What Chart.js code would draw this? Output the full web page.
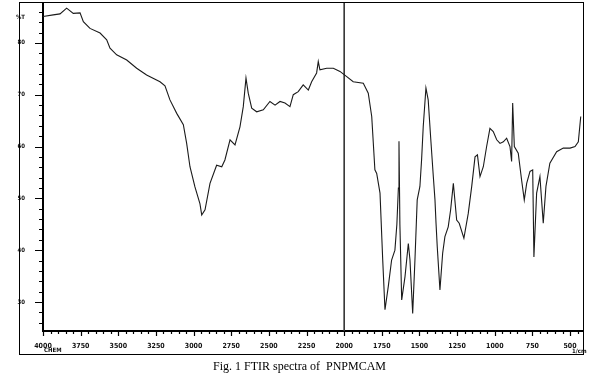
<!DOCTYPE html>
<html>
<head>
<meta charset="utf-8">
<script src="https://cdn.jsdelivr.net/npm/chart.js@4.4.1/dist/chart.umd.min.js"></script>
<style>
  body { margin: 0; background: #fff; }
  #wrap { position: relative; width: 595px; height: 381px; }
  #frame {
    position: absolute; left: 19px; top: 2px; width: 565px; height: 353px;
    box-sizing: border-box; border: 1.5px solid #000; pointer-events: none;
  }
  .note { position: absolute; font-family: 'DejaVu Sans Condensed', 'DejaVu Sans', sans-serif; font-weight: bold; font-size: 6px; color: #111; }
  #caption {
    position: absolute; left: 0; width: 599px; top: 359px; text-align: center;
    font-family: 'Liberation Serif', 'DejaVu Serif', serif; font-size: 12px; white-space: pre; color: #000;
  }
</style>
</head>
<body>
<div id="wrap">
  <canvas id="c" width="595" height="381"></canvas>
  <div id="frame"></div>
  <div class="note" style="left:44px; top:346px;">CHEM</div>
  <div class="note" style="left:572px; top:347px;">1/cm</div>
  <div id="caption">Fig. 1 FTIR spectra of  PNPMCAM</div>
</div>
<script>
// spectrum (wavenumber cm-1, %T)
const wavenumbers = [4000, 3932, 3887, 3843, 3799, 3754, 3732, 3688, 3621, 3577, 3555, 3511, 3444, 3378, 3312, 3256, 3223, 3190, 3157, 3112, 3068, 3046, 3024, 2991, 2958,
  2946, 2924, 2891, 2847, 2813, 2792, 2758, 2725, 2692, 2670, 2652, 2637, 2614, 2581, 2537, 2493, 2459, 2426, 2393, 2360, 2338, 2305, 2272, 2238, 2216, 2183, 2172, 2161, 2116, 2072, 2028,
  1983, 1940, 1873, 1840, 1817, 1796, 1784, 1762, 1744, 1729, 1707, 1685, 1663, 1650, 1640, 1636, 1630, 1618, 1596, 1574, 1563, 1545, 1530, 1515, 1497, 1486, 1475, 1457, 1442, 1426,
  1408, 1397, 1390, 1382, 1364, 1346, 1331, 1309, 1293, 1275, 1253, 1236, 1205, 1176, 1153, 1131, 1115, 1098, 1076, 1054, 1032, 1010, 987, 965, 943, 921, 899, 888, 881, 870,
  844, 822, 804, 788, 766, 748, 740, 722, 700, 678, 660, 634, 589, 545, 500, 467, 445, 429];
const transmittance = [85.1, 85.4, 85.6, 86.7, 85.7, 85.8, 84.1, 82.8, 81.9, 80.6, 79.0, 77.7, 76.7, 75.1, 73.8, 73.0, 72.5, 71.7, 69.0, 66.4, 64.2, 60.6, 56.1, 52.2, 49.0,
  46.8, 47.8, 52.9, 56.4, 56.1, 57.4, 61.3, 60.3, 63.8, 67.7, 73.2, 70.3, 67.4, 66.7, 67.1, 68.7, 68.0, 68.7, 68.4, 67.7, 70.0, 70.6, 71.9, 70.9, 72.5, 74.2, 76.4, 74.8, 75.1, 75.1, 74.5,
  73.5, 72.5, 72.2, 70.3, 65.8, 55.5, 54.8, 51.0, 38.1, 28.5, 33.0, 38.1, 40.0, 45.0, 52.0, 61.0, 45.0, 30.4, 34.9, 41.3, 38.1, 27.8, 38.1, 49.7, 52.3, 57.4, 63.8, 71.3, 69.0, 61.9,
  54.2, 49.7, 45.2, 40.7, 32.3, 39.4, 42.6, 44.5, 47.8, 52.9, 45.8, 45.2, 42.3, 47.1, 52.3, 58.0, 58.4, 54.2, 56.1, 60.0, 63.5, 62.9, 61.3, 60.6, 60.9, 61.6, 60.0, 57.1, 68.4, 60.0,
  58.7, 53.6, 49.7, 52.9, 55.2, 55.5, 38.7, 51.0, 54.2, 45.2, 52.3, 56.8, 59.0, 59.7, 59.7, 60.0, 60.9, 65.8];

const xLabels = [4000, 3750, 3500, 3250, 3000, 2750, 2500, 2250, 2000, 1750, 1500, 1250, 1000, 750, 500];
const yLabels = [30, 40, 50, 60, 70, 80, 85];
const xRange = [414, 4000];
const yRange = [24.4, 87.7];
const splitAt = 2000;

const points = wavenumbers.map((w, i) => ({ x: w, y: transmittance[i] }));

// small tick marks along both axes
const tickMarks = {
  id: 'tickMarks',
  afterDraw(chart) {
    const { ctx, scales: { x, y } } = chart;
    ctx.save();
    ctx.strokeStyle = '#000';
    ctx.lineWidth = 1.2;
    ctx.beginPath();
    for (let v = 450; v <= 4000; v += 50) {
      const px = Math.round(x.getPixelForValue(v)) + 0.5;
      const len = v % 250 === 0 ? 5 : 3;
      ctx.moveTo(px, y.bottom);
      ctx.lineTo(px, y.bottom + len);
    }
    for (let v = 26; v <= 86; v += 2) {
      const py = Math.round(y.getPixelForValue(v)) + 0.5;
      const len = v % 10 === 0 ? 8 : 4;
      ctx.moveTo(x.left - len, py);
      ctx.lineTo(x.left, py);
    }
    ctx.stroke();
    ctx.restore();
  }
};

function noPad(s) {
  s.paddingTop = 0; s.paddingBottom = 0; s.paddingLeft = 0; s.paddingRight = 0;
}

new Chart(document.getElementById('c'), {
  type: 'line',
  data: {
    datasets: [
      {
        data: points,
        borderColor: '#1a1a1a',
        borderWidth: 1.1,
        pointRadius: 0,
        tension: 0
      },
      {
        data: [{ x: splitAt, y: yRange[0] }, { x: splitAt, y: yRange[1] }],
        borderColor: '#333',
        borderWidth: 1.6,
        pointRadius: 0
      }
    ]
  },
  options: {
    responsive: false,
    animation: false,
    events: [],
    layout: { padding: { left: 0, top: 3, right: 12, bottom: 26 } },
    plugins: { legend: { display: false }, tooltip: { enabled: false } },
    scales: {
      x: {
        type: 'linear',
        reverse: true,
        min: xRange[0],
        max: xRange[1],
        grid: { display: false },
        border: { display: true, color: '#000', width: 2 },
        afterBuildTicks: s => { s.ticks = xLabels.map(v => ({ value: v })); },
        afterFit: s => { s.height = 24; noPad(s); },
        ticks: {
          autoSkip: false,
          maxRotation: 0,
          padding: 3,
          color: '#111',
          font: { family: "'DejaVu Sans Condensed', 'DejaVu Sans', sans-serif", size: 7, weight: 'bold' },
          callback: v => v
        }
      },
      y: {
        min: yRange[0],
        max: yRange[1],
        grid: { display: false },
        border: { display: true, color: '#000', width: 2 },
        afterBuildTicks: s => { s.ticks = yLabels.map(v => ({ value: v })); },
        afterFit: s => { s.width = 43; noPad(s); },
        ticks: {
          autoSkip: false,
          padding: 10,
          color: '#111',
          font: { family: "'DejaVu Sans Condensed', 'DejaVu Sans', sans-serif", size: 6, weight: 'bold' },
          callback: v => v === 85 ? '%T' : v
        }
      }
    }
  },
  plugins: [tickMarks]
});
</script>
</body>
</html>
